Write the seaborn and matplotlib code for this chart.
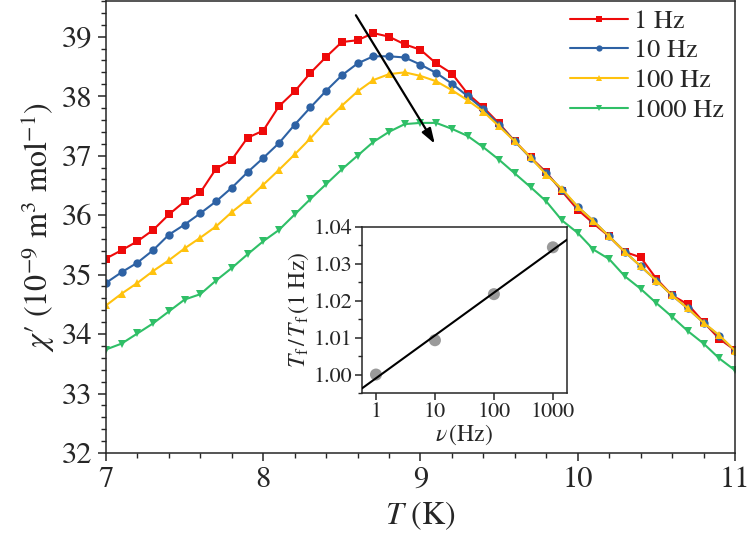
import numpy as np
import pandas as pd
import seaborn as sns
import matplotlib
matplotlib.use("Agg")
import matplotlib.pyplot as plt
from matplotlib.ticker import MultipleLocator, FixedLocator, LogLocator, NullFormatter

# temperature grid (K)
T = np.round(np.arange(7.0, 11.01, 0.1), 1)

chi_1hz = [35.27, 35.41, 35.56, 35.75, 36.01, 36.23, 36.38, 36.78, 36.93, 37.30,
           37.42, 37.83, 38.08, 38.39, 38.66, 38.91, 38.94, 39.06, 39.00, 38.87,
           38.78, 38.55, 38.38, 38.04, 37.81, 37.54, 37.24, 36.97, 36.72, 36.40,
           36.09, 35.86, 35.64, 35.38, 35.29, 34.93, 34.65, 34.50, 34.20, 33.92,
           33.73]
chi_10hz = [34.86, 35.04, 35.20, 35.41, 35.67, 35.84, 36.03, 36.23, 36.46, 36.72,
            36.96, 37.21, 37.52, 37.81, 38.09, 38.35, 38.55, 38.67, 38.67, 38.65,
            38.53, 38.39, 38.21, 38.00, 37.78, 37.52, 37.24, 36.96, 36.70, 36.42,
            36.14, 35.90, 35.64, 35.38, 35.14, 34.90, 34.65, 34.43, 34.19, 33.97,
            33.72]
chi_100hz = [34.48, 34.68, 34.86, 35.06, 35.24, 35.44, 35.62, 35.81, 36.05, 36.26,
             36.51, 36.76, 37.02, 37.29, 37.58, 37.84, 38.08, 38.27, 38.37, 38.40,
             38.34, 38.25, 38.10, 37.93, 37.74, 37.49, 37.24, 36.97, 36.68, 36.44,
             36.14, 35.90, 35.64, 35.38, 35.14, 34.90, 34.65, 34.43, 34.19, 33.98,
             33.72]
chi_1000hz = [33.74, 33.84, 34.01, 34.18, 34.38, 34.58, 34.67, 34.90, 35.11, 35.34,
              35.56, 35.75, 36.01, 36.27, 36.52, 36.77, 37.00, 37.23, 37.40, 37.53,
              37.55, 37.55, 37.45, 37.33, 37.14, 36.93, 36.70, 36.47, 36.23, 35.91,
              35.70, 35.42, 35.26, 34.97, 34.76, 34.52, 34.29, 34.05, 33.84, 33.59,
              33.39]

labels = ["1 Hz", "10 Hz", "100 Hz", "1000 Hz"]
colors = ["#ee0a0a", "#2e62a4", "#ffc20e", "#2fbf67"]
markers = ["s", "o", "^", "v"]

# inset: freezing temperature ratio vs frequency
nu = [1, 10, 100, 1000]
tf_ratio = [1.000, 1.0093, 1.0218, 1.0345]

sns.set_style("ticks")
plt.rcParams["font.family"] = ["STIXGeneral", "DejaVu Serif"]
plt.rcParams["mathtext.fontset"] = "stix"
plt.rcParams["axes.linewidth"] = 1.1

fig = plt.figure(figsize=(7.5, 5.44), dpi=100)
ax = fig.add_axes([0.1413, 0.1673, 0.8387, 0.8309])

for vals, lab, c, m in zip([chi_1hz, chi_10hz, chi_100hz, chi_1000hz], labels, colors, markers):
    df = pd.DataFrame({"T": T, "chi": vals})
    sns.lineplot(data=df, x="T", y="chi", ax=ax, color=c, marker=m, markersize=6,
                 markeredgewidth=0, linewidth=1.5, label=lab)

ax.set_xlim(7, 11)
ax.set_ylim(32, 39.6)
ax.xaxis.set_major_locator(MultipleLocator(1))
ax.xaxis.set_minor_locator(MultipleLocator(0.2))
ax.yaxis.set_major_locator(MultipleLocator(1))
ax.yaxis.set_minor_locator(MultipleLocator(0.2))
ax.tick_params(which="major", direction="out", length=6, width=1.1, labelsize=22)
ax.tick_params(which="minor", direction="out", length=3.5, width=1.0)
ax.set_xlabel(r"$T$ (K)", fontsize=23, labelpad=4)
ax.set_ylabel("$\\chi$\u2032 (10$^{-9}$ m$^3$ mol$^{-1}$)", fontsize=23, labelpad=4)

ax.annotate("", xy=(9.10, 37.16), xytext=(8.58, 39.40),
            arrowprops=dict(arrowstyle="-|>,head_length=0.9,head_width=0.3", color="black", lw=1.6))

leg = ax.legend(loc="upper right", bbox_to_anchor=(1.0, 1.005), frameon=False, fontsize=19,
                handlelength=2.2, handletextpad=0.25, labelspacing=0.2, borderaxespad=0.0)
for h in leg.get_lines():
    h.set_markersize(4.5)

# inset
ins = fig.add_axes([0.4827, 0.2776, 0.2733, 0.3051])
fit = np.polyfit(np.log10(nu), tf_ratio, 1)
xl = np.array([0.58, 1735])
fit_df = pd.DataFrame({"nu": xl, "r": fit[1] + fit[0] * np.log10(xl)})
sns.scatterplot(x=nu, y=tf_ratio, ax=ins, color="#9a9a9a", s=75, edgecolor="none", zorder=2)
sns.lineplot(data=fit_df, x="nu", y="r", ax=ins, color="black", linewidth=1.5, zorder=3)
ins.set_xscale("log")
ins.set_xlim(0.58, 1735)
ins.set_ylim(0.995, 1.04)
ins.xaxis.set_major_locator(FixedLocator(nu))
ins.set_xticklabels(["1", "10", "100", "1000"])
ins.xaxis.set_minor_locator(LogLocator(base=10, subs=np.arange(2, 10)))
ins.xaxis.set_minor_formatter(NullFormatter())
ins.yaxis.set_major_locator(MultipleLocator(0.01))
ins.yaxis.set_minor_locator(MultipleLocator(0.005))
ins.yaxis.set_major_formatter(plt.FormatStrFormatter("%.2f"))
ins.tick_params(which="major", direction="out", length=5, width=1.1, labelsize=16, pad=2)
ins.tick_params(which="minor", direction="out", length=3, width=1.0)
ins.set_xlabel(r"$\nu\,(\mathrm{Hz})$", fontsize=17, labelpad=0)
ins.set_ylabel(r"$T_\mathrm{f}\,/\,T_\mathrm{f}\,(1\ \mathrm{Hz})$", fontsize=17, labelpad=2)

fig.savefig("out.png", dpi=100)
